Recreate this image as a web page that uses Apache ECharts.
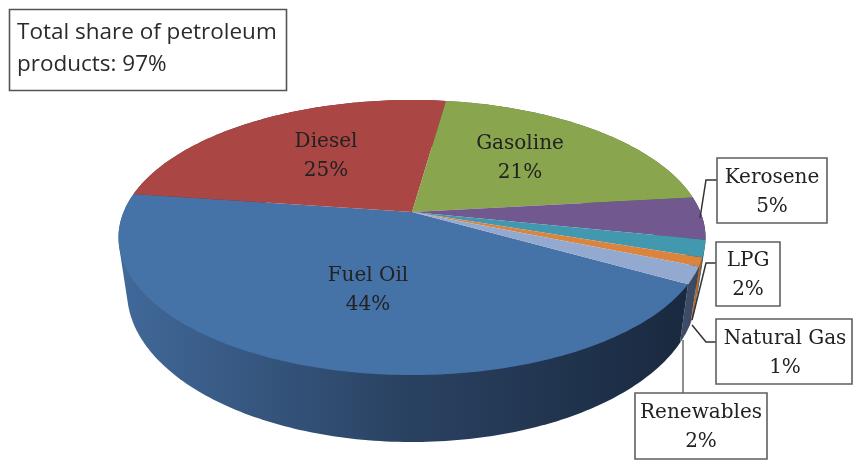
<!DOCTYPE html>
<html><head><meta charset="utf-8">
<style>html,body{margin:0;padding:0;background:#fff}#c{width:853px;height:463px}</style>
<script src="https://cdn.jsdelivr.net/npm/echarts@6/dist/echarts.min.js"></script>
</head><body><div id="c"></div>
<script>
const categories = ['Fuel Oil','Diesel','Gasoline','Kerosene','LPG','Natural Gas','Renewables'];
const shares = [44,25,21,5,2,1,2];
const topColors = ['#4572A7','#AA4643','#89A54E','#71588F','#4198AF','#DB843D','#93A9CF'];
const wallLeft  = ['#41699A','#6f2e2c','#5a6c33','#4a3a5e','#2b6373','#c0702e','#3f4e68'];
const wallRight = ['#19293F','#6f2e2c','#5a6c33','#2f2540','#1f4753','#a85f26','#3a4862'];
const noteText = 'Total share of petroleum\nproducts: 97%';

// layout (not data)
const startAngle = 119.6, k = -0.1855;
const topFace = {cx:412, cy:212, a:288.4, b:132.8};
const baseFace = {cx:412, cy:264, a:280, b:145};
// label centre, and box [x0,y0,x1,y1] when boxed
const labelLayout = [
  {c:[368,290]}, {c:[326,156]}, {c:[520,158]},
  {c:[772,192], box:[717,158,827,223]},
  {c:[748,275], box:[716,242,780,306]},
  {c:[785,353], box:[716,319,852,384]},
  {c:[701,427], box:[635,393,767,459]}
];
const leaders = [
  [[700,218],[706,180],[717,180]],
  [[692,320],[706,263],[716,263]],
  [[692,325],[706,342],[716,342]],
  [[683,340],[683,393]]
];

const total = shares.reduce((s,v)=>s+v,0);
function angles(i){
  let before = 0; for(let j=0;j<i;j++) before += shares[j];
  return [startAngle + before/total*360, startAngle + (before+shares[i])/total*360];
}
function project(f,deg){
  const r = deg*Math.PI/180, X = Math.sin(r), Y = -Math.cos(r), w = 1 + k*Y;
  return [f.cx + f.a*X/w, f.cy + f.b*Y/w];
}
function arc(f,a0,a1){
  const n = Math.max(4,Math.ceil(Math.abs(a1-a0))), pts=[];
  for(let t=0;t<=n;t++) pts.push(project(f,a0+(a1-a0)*t/n));
  return pts;
}
// the wall of a slice is the outline round its top rim and its bottom rim
function hull(points){
  const p = points.slice().sort((a,b)=>a[0]-b[0]||a[1]-b[1]);
  const cross=(o,a,b)=>(a[0]-o[0])*(b[1]-o[1])-(a[1]-o[1])*(b[0]-o[0]);
  const lo=[],up=[];
  for(const q of p){while(lo.length>1&&cross(lo[lo.length-2],lo[lo.length-1],q)<=0)lo.pop();lo.push(q);}
  for(const q of p.slice().reverse()){while(up.length>1&&cross(up[up.length-2],up[up.length-1],q)<=0)up.pop();up.push(q);}
  return lo.slice(0,-1).concat(up.slice(0,-1));
}
const chart = echarts.init(document.getElementById('c'),null,{renderer:'canvas'});
chart.setOption({
  animation:false,
  backgroundColor:'#fff',
  series:[
   {type:'custom',name:'side',coordinateSystem:'none',silent:true,z:1,
    data:shares.map((v,i)=>[i,v]),
    renderItem(p,api){
      const i = api.value(0), [a0,a1] = angles(i);
      const pts = hull(arc(topFace,a0,a1).concat(arc(baseFace,a0,a1)));
      const xs = pts.map(q=>q[0]);
      const fill = new echarts.graphic.LinearGradient(Math.min(...xs),0,Math.max(...xs),0,
        i===0?[{offset:0,color:wallLeft[0]},{offset:.5,color:'#2A4262'},{offset:1,color:wallRight[0]}]
             :[{offset:0,color:wallLeft[i]},{offset:1,color:wallRight[i]}],true);
      return {type:'polygon',z2:i===0?50:10+i,shape:{points:pts},style:{fill:fill}};
    }},
   {type:'custom',name:'top',coordinateSystem:'none',silent:true,z:2,
    data:shares.map((v,i)=>[i,v]),
    renderItem(p,api){
      const i = api.value(0), [a0,a1] = angles(i);
      const pts = [[topFace.cx,topFace.cy]].concat(arc(topFace,a0,a1));
      return {type:'polygon',shape:{points:pts},style:{fill:topColors[i]}};
    }},
   {type:'custom',name:'labels',coordinateSystem:'none',silent:true,z:4,
    data:shares.map((v,i)=>[i,v]),
    renderItem(p,api){
      const i = api.value(0), L = labelLayout[i], ch=[];
      if(L.box){const b=L.box; ch.push({type:'rect',shape:{x:b[0],y:b[1],width:b[2]-b[0],height:b[3]-b[1]},
        style:{fill:'#fff',stroke:'#5f5f5f',lineWidth:1.6}});}
      ch.push({type:'text',x:L.c[0],y:L.c[1],z2:5,style:{text:categories[i]+'\n'+api.value(1)+'%',
        fill:'#222',font:'20px "DejaVu Serif"',lineHeight:29,align:'center',verticalAlign:'middle'}});
      return {type:'group',children:ch};
    }}
  ],
  graphic:[
    ...leaders.map((pts,i)=>({type:'polyline',z:3,shape:{points:pts},
       style:{fill:null,stroke:i===3?'#6a6a6a':'#333',lineWidth:1.5}})),
    {type:'rect',z:5,shape:{x:9.5,y:9.5,width:277,height:81},style:{fill:'#fff',stroke:'#555',lineWidth:1.6}},
    {type:'text',z:6,x:17,y:49,style:{text:noteText,fill:'#2b2b2b',font:'22.5px "Open Sans"',lineHeight:32,verticalAlign:'middle',align:'left'}}
  ]
});
</script></body></html>
